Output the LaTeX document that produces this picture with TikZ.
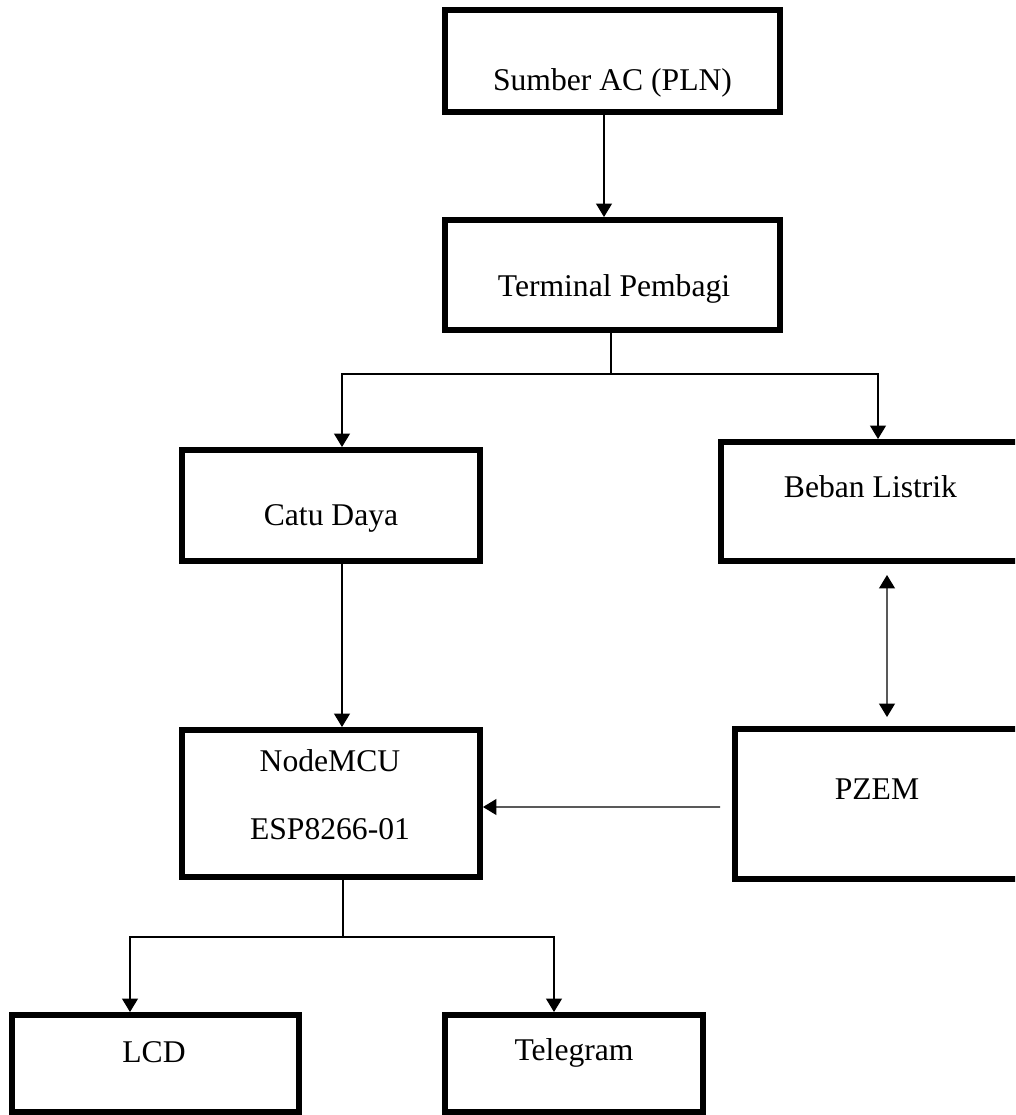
\documentclass[tikz,border=0pt]{standalone}
\usepackage{fontspec}
\setmainfont{Liberation Serif}
\usetikzlibrary{arrows.meta, calc}

\begin{document}
\begin{tikzpicture}[
    x=0.02cm, y=-0.02cm,
    blok/.style={rectangle, draw=black, line width=0.12cm, inner sep=0pt},
    teks/.style={anchor=base, inner sep=0pt, font=\fontsize{18}{21}\selectfont},
    panah/.style={line width=0.75pt, -{Triangle[length=0.27cm, width=0.32cm]}},
    panahdua/.style={line width=0.75pt, {Triangle[length=0.27cm, width=0.32cm]}-{Triangle[length=0.27cm, width=0.32cm]}},
    garis/.style={line width=0.75pt}
]
    \useasboundingbox (0,0) rectangle (1015,1115);
    \clip (0,0) rectangle (1015,1115);

    % Blocks
    \node[blok, minimum width=6.7cm, minimum height=2.04cm] (sumber) at (612.5,61) {};
    \node[blok, minimum width=6.7cm, minimum height=2.2cm] (terminal) at (612.5,275) {};
    \node[blok, minimum width=5.96cm, minimum height=2.22cm] (catu) at (331,505.5) {};
    \node[blok, minimum width=6.0cm, minimum height=2.38cm] (beban) at (871,501.5) {};
    \node[blok, minimum width=5.96cm, minimum height=2.94cm] (nodemcu) at (331,803.5) {};
    \node[blok, minimum width=5.7cm, minimum height=3.0cm] (pzem) at (877.5,804) {};
    \node[blok, minimum width=5.74cm, minimum height=1.94cm] (lcd) at (155.5,1063.5) {};
    \node[blok, minimum width=5.16cm, minimum height=1.94cm] (telegram) at (574,1063.5) {};

    % Block texts
    \node[teks] (sumbertxt) at (612.5,91) {Sumber AC (PLN)};
    \node[teks] (terminaltxt) at (614,296) {Terminal Pembagi};
    \node[teks] (catutxt) at (331,525) {Catu Daya};
    \node[teks] (bebantxt) at (870.5,497) {Beban Listrik};
    \node[teks] (nodemcutxt) at (330,771) {NodeMCU};
    \node[teks] (esptxt) at (330,839) {ESP8266-01};
    \node[teks] (pzemtxt) at (877,799) {PZEM};
    \node[teks] (lcdtxt) at (154,1062) {LCD};
    \node[teks] (telegramtxt) at (574,1060) {Telegram};

    % Branch points
    \coordinate (cabang1) at (611,374);
    \coordinate (cabang2) at (343,937);

    % Connectors
    \draw[panah] ($(sumber.south)+(-8.5,0)$) -- ($(terminal.north)+(-8.5,0)$);
    \draw[garis] ($(terminal.south)+(-1.5,0)$) -- (cabang1);
    \draw[panah] (cabang1) -| ($(catu.north)+(11,0)$);
    \draw[panah] (cabang1) -| ($(beban.north)+(7,0)$);
    \draw[panah] ($(catu.south)+(11,0)$) -- ($(nodemcu.north)+(11,0)$);
    \draw[panahdua, shorten <=0.22cm, shorten >=0.18cm]
        ($(beban.south)+(16,0)$) -- ($(pzem.north)+(9.5,0)$);
    \draw[panah, shorten <=0.24cm] ($(pzem.west)+(0,3)$) -- ($(nodemcu.east)+(0,3.5)$);
    \draw[garis] ($(nodemcu.south)+(12,0)$) -- (cabang2);
    \draw[panah] (cabang2) -| ($(lcd.north)+(-25.5,0)$);
    \draw[panah] (cabang2) -| ($(telegram.north)+(-20,0)$);
\end{tikzpicture}
\end{document}
